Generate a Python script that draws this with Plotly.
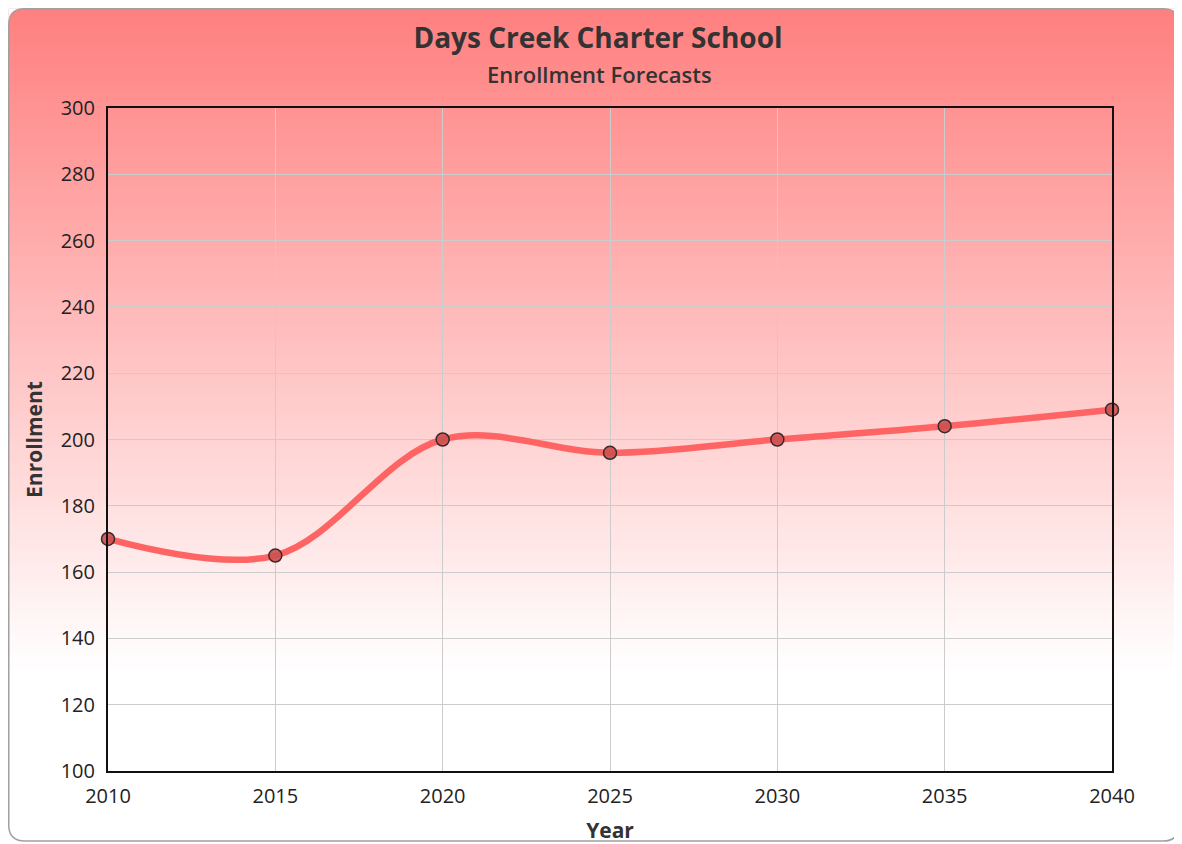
import plotly.graph_objects as go

# ---- data ----
years = [2010, 2015, 2020, 2025, 2030, 2035, 2040]
enrollment = [170, 165, 200, 196, 200, 204, 209]
y_ticks = [100, 120, 140, 160, 180, 200, 220, 240, 260, 280, 300]
x_ticks = [2010, 2015, 2020, 2025, 2030, 2035, 2040]

title_text = "Days Creek Charter School"
subtitle_text = "Enrollment Forecasts"

# ---- layout geometry ----
# page is rendered with an 8px body margin; work in page pixels and shift
OFF = 8
W, H = 1182 - OFF, 844 - OFF
PLOT_L, PLOT_R, PLOT_T, PLOT_B = 108, 1112, 108, 771   # page pixels
ML, MT = PLOT_L - OFF, PLOT_T - OFF
MR = W - (PLOT_R - OFF)
MB = H - (PLOT_B - OFF)
PW, PH = W - ML - MR, H - MT - MB


def px2x(px):  # page px -> paper x
    return (px - OFF - ML) / PW


def py2y(py):  # page py -> paper y
    return (H - MB - (py - OFF)) / PH


FONT = "Open Sans, Noto Sans, sans-serif"
TXT = "#333333"

fig = go.Figure()
fig.add_trace(go.Scatter(
    x=years, y=enrollment, mode="lines+markers",
    line=dict(color="#ff6464", width=6.5, shape="spline", smoothing=1),
    marker=dict(size=13, color="rgba(205,80,80,0.9)",
                line=dict(color="#3a2a2a", width=1.5)),
    cliponaxis=False, showlegend=False,
    hovertemplate="%{x}: %{y}<extra></extra>",
))

# ---- card background: vertical gradient with rounded corners ----
shapes = []
card_l, card_r, card_t, card_b = OFF + 0.75, 1179, OFF + 0.75, 841
grad_end = 668
top_rgb = (255, 127, 127)
n = 120
step = (grad_end - card_t) / n
for i in range(n):
    y0 = card_t + i * step
    y1 = y0 + step + 0.8
    f = (i + 0.5) / n
    c = tuple(int(round(top_rgb[k] + (255 - top_rgb[k]) * f)) for k in range(3))
    shapes.append(dict(type="rect", xref="paper", yref="paper", layer="below",
                       x0=px2x(card_l), x1=px2x(card_r), y0=py2y(y0), y1=py2y(y1),
                       fillcolor="rgb(%d,%d,%d)" % c, line=dict(width=0)))

r = 16


def P(px, py):
    return "%.5f,%.5f" % (px2x(px), py2y(py))


for (cx, cy, sx, sy) in [(card_l, card_t, 1, 1), (card_r, card_t, -1, 1),
                         (card_l, card_b, 1, -1), (card_r, card_b, -1, -1)]:
    path = "M %s L %s Q %s %s Z" % (P(cx, cy), P(cx + sx * r, cy), P(cx, cy), P(cx, cy + sy * r))
    shapes.append(dict(type="path", xref="paper", yref="paper", layer="below",
                       path=path, fillcolor="white", line=dict(width=0)))

border = ("M %s L %s Q %s %s L %s Q %s %s L %s Q %s %s L %s Q %s %s Z" % (
    P(card_l + r, card_t), P(card_r - r, card_t), P(card_r, card_t), P(card_r, card_t + r),
    P(card_r, card_b - r), P(card_r, card_b), P(card_r - r, card_b),
    P(card_l + r, card_b), P(card_l, card_b), P(card_l, card_b - r),
    P(card_l, card_t + r), P(card_l, card_t), P(card_l + r, card_t)))
shapes.append(dict(type="path", xref="paper", yref="paper", layer="below",
                   path=border, line=dict(color="#a0a0a0", width=1.5)))

annotations = [dict(text=subtitle_text, xref="paper", yref="paper",
                    x=px2x(599), y=py2y(74), xanchor="center", yanchor="middle",
                    showarrow=False,
                    font=dict(size=22, family=FONT, color=TXT, weight=600))]

fig.update_layout(
    width=W, height=H,
    margin=dict(l=ML, r=MR, t=MT, b=MB, autoexpand=False),
    paper_bgcolor="white", plot_bgcolor="rgba(0,0,0,0)",
    shapes=shapes, annotations=annotations,
    font=dict(family=FONT, color=TXT),
    title=dict(text=title_text, x=(598 - OFF) / W, xanchor="center", xref="container",
               y=1 - (38 - OFF) / H, yanchor="middle", yref="container",
               font=dict(size=28, family=FONT, color=TXT, weight=700)),
    xaxis=dict(range=[2010, 2040], tickvals=x_ticks, ticktext=[str(v) for v in x_ticks],
               showgrid=True, gridcolor="#cccccc", gridwidth=1.2,
               showline=True, linecolor="#111111", linewidth=2, mirror=True,
               ticks="outside", ticklen=6, tickcolor="rgba(0,0,0,0)",
               tickfont=dict(size=20, family=FONT, color="#222222"),
               zeroline=False, automargin=False,
               title=dict(text="<b>Year</b>", standoff=15,
                          font=dict(size=21, family=FONT, color=TXT))),
    yaxis=dict(range=[100, 300], tickvals=y_ticks, ticktext=[str(v) for v in y_ticks],
               showgrid=True, gridcolor="#cccccc", gridwidth=1.2,
               showline=True, linecolor="#111111", linewidth=2, mirror=True,
               ticks="outside", ticklen=7, tickcolor="rgba(0,0,0,0)",
               tickfont=dict(size=20, family=FONT, color="#222222"),
               zeroline=False, automargin=False,
               title=dict(text="<b>Enrollment</b>", standoff=12,
                          font=dict(size=21, family=FONT, color=TXT))),
)

fig.write_html("out.html")
